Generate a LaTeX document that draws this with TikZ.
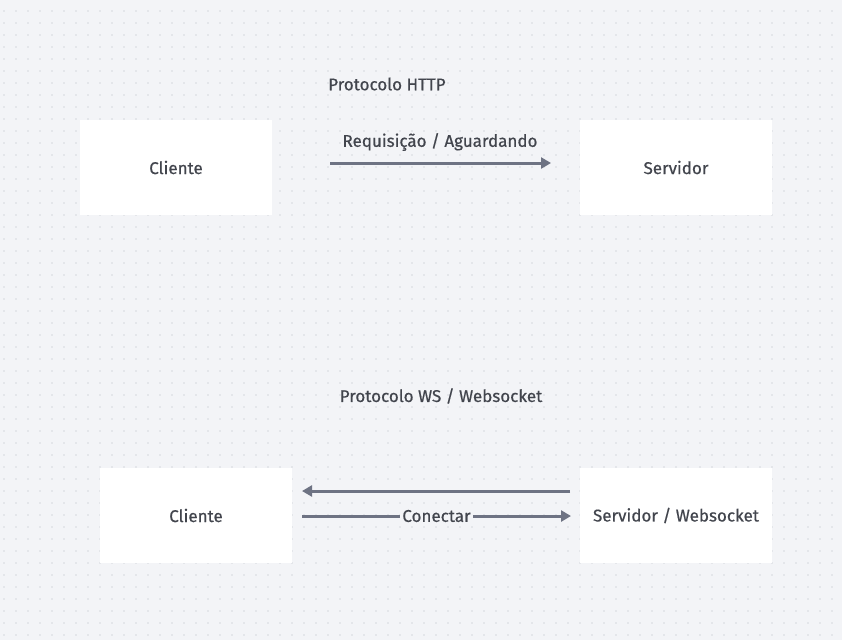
\documentclass[tikz,border=0pt]{standalone}
\usepackage{fontspec}
\setmainfont{Fira Sans}
\newfontfamily\medfont[FakeBold=0.6]{Fira Sans}
\usetikzlibrary{arrows.meta,positioning}
\definecolor{bgcol}{HTML}{F3F4F7}
\definecolor{dotcol}{HTML}{D6D8DE}
\definecolor{linecol}{HTML}{6E7383}
\definecolor{txtcol}{HTML}{42454D}
\tikzset{
  box/.style={fill=white, minimum width=192pt, minimum height=95pt, inner sep=0pt,
    text=txtcol, font=\medfont\fontsize{17}{20}\selectfont},
  lbl/.style={text=txtcol, font=\medfont\fontsize{17}{20}\selectfont, inner sep=1pt},
  flow/.style={draw=linecol, line width=3pt, -{Triangle[length=10pt,width=11pt]}},
}
\begin{document}
\begin{tikzpicture}[x=1pt,y=-1pt]
  \useasboundingbox (0,0) rectangle (842,640);
  \fill[bgcol] (0,0) rectangle (842,640);
  % dot grid
  \foreach \i in {0,...,69}
    \foreach \j in {0,...,52}
      \fill[dotcol] (4+12*\i,11+12*\j) circle (0.9pt);
  % HTTP
  \node[lbl, anchor=west] (httptitle) at (327,84) {Protocolo HTTP};
  \node[box] (cli1) at (176,167.5) {Cliente};
  \node[box] (srv1) at (676,167.5) {Servidor};
  \coordinate (a1) at (330,163);
  \coordinate (b1) at (551,163);
  \draw[flow] (a1) -- (b1);
  \node[lbl] (req) at (440,142) {Requisição / Aguardando};
  % WS
  \node[lbl] (wstitle) at (441,396) {Protocolo WS / Websocket};
  \node[box] (cli2) at (196,515.5) {Cliente};
  \node[box] (srv2) at (676,515.5) {Servidor / Websocket};
  \coordinate (a2) at (570,491);
  \coordinate (b2) at (302,491);
  \draw[flow] (a2) -- (b2);
  \coordinate (a3) at (302,516);
  \coordinate (b3) at (571,516);
  \draw[flow] (a3) -- node[lbl, fill=bgcol, inner xsep=2pt] (con) {Conectar} (b3);
\end{tikzpicture}
\end{document}
